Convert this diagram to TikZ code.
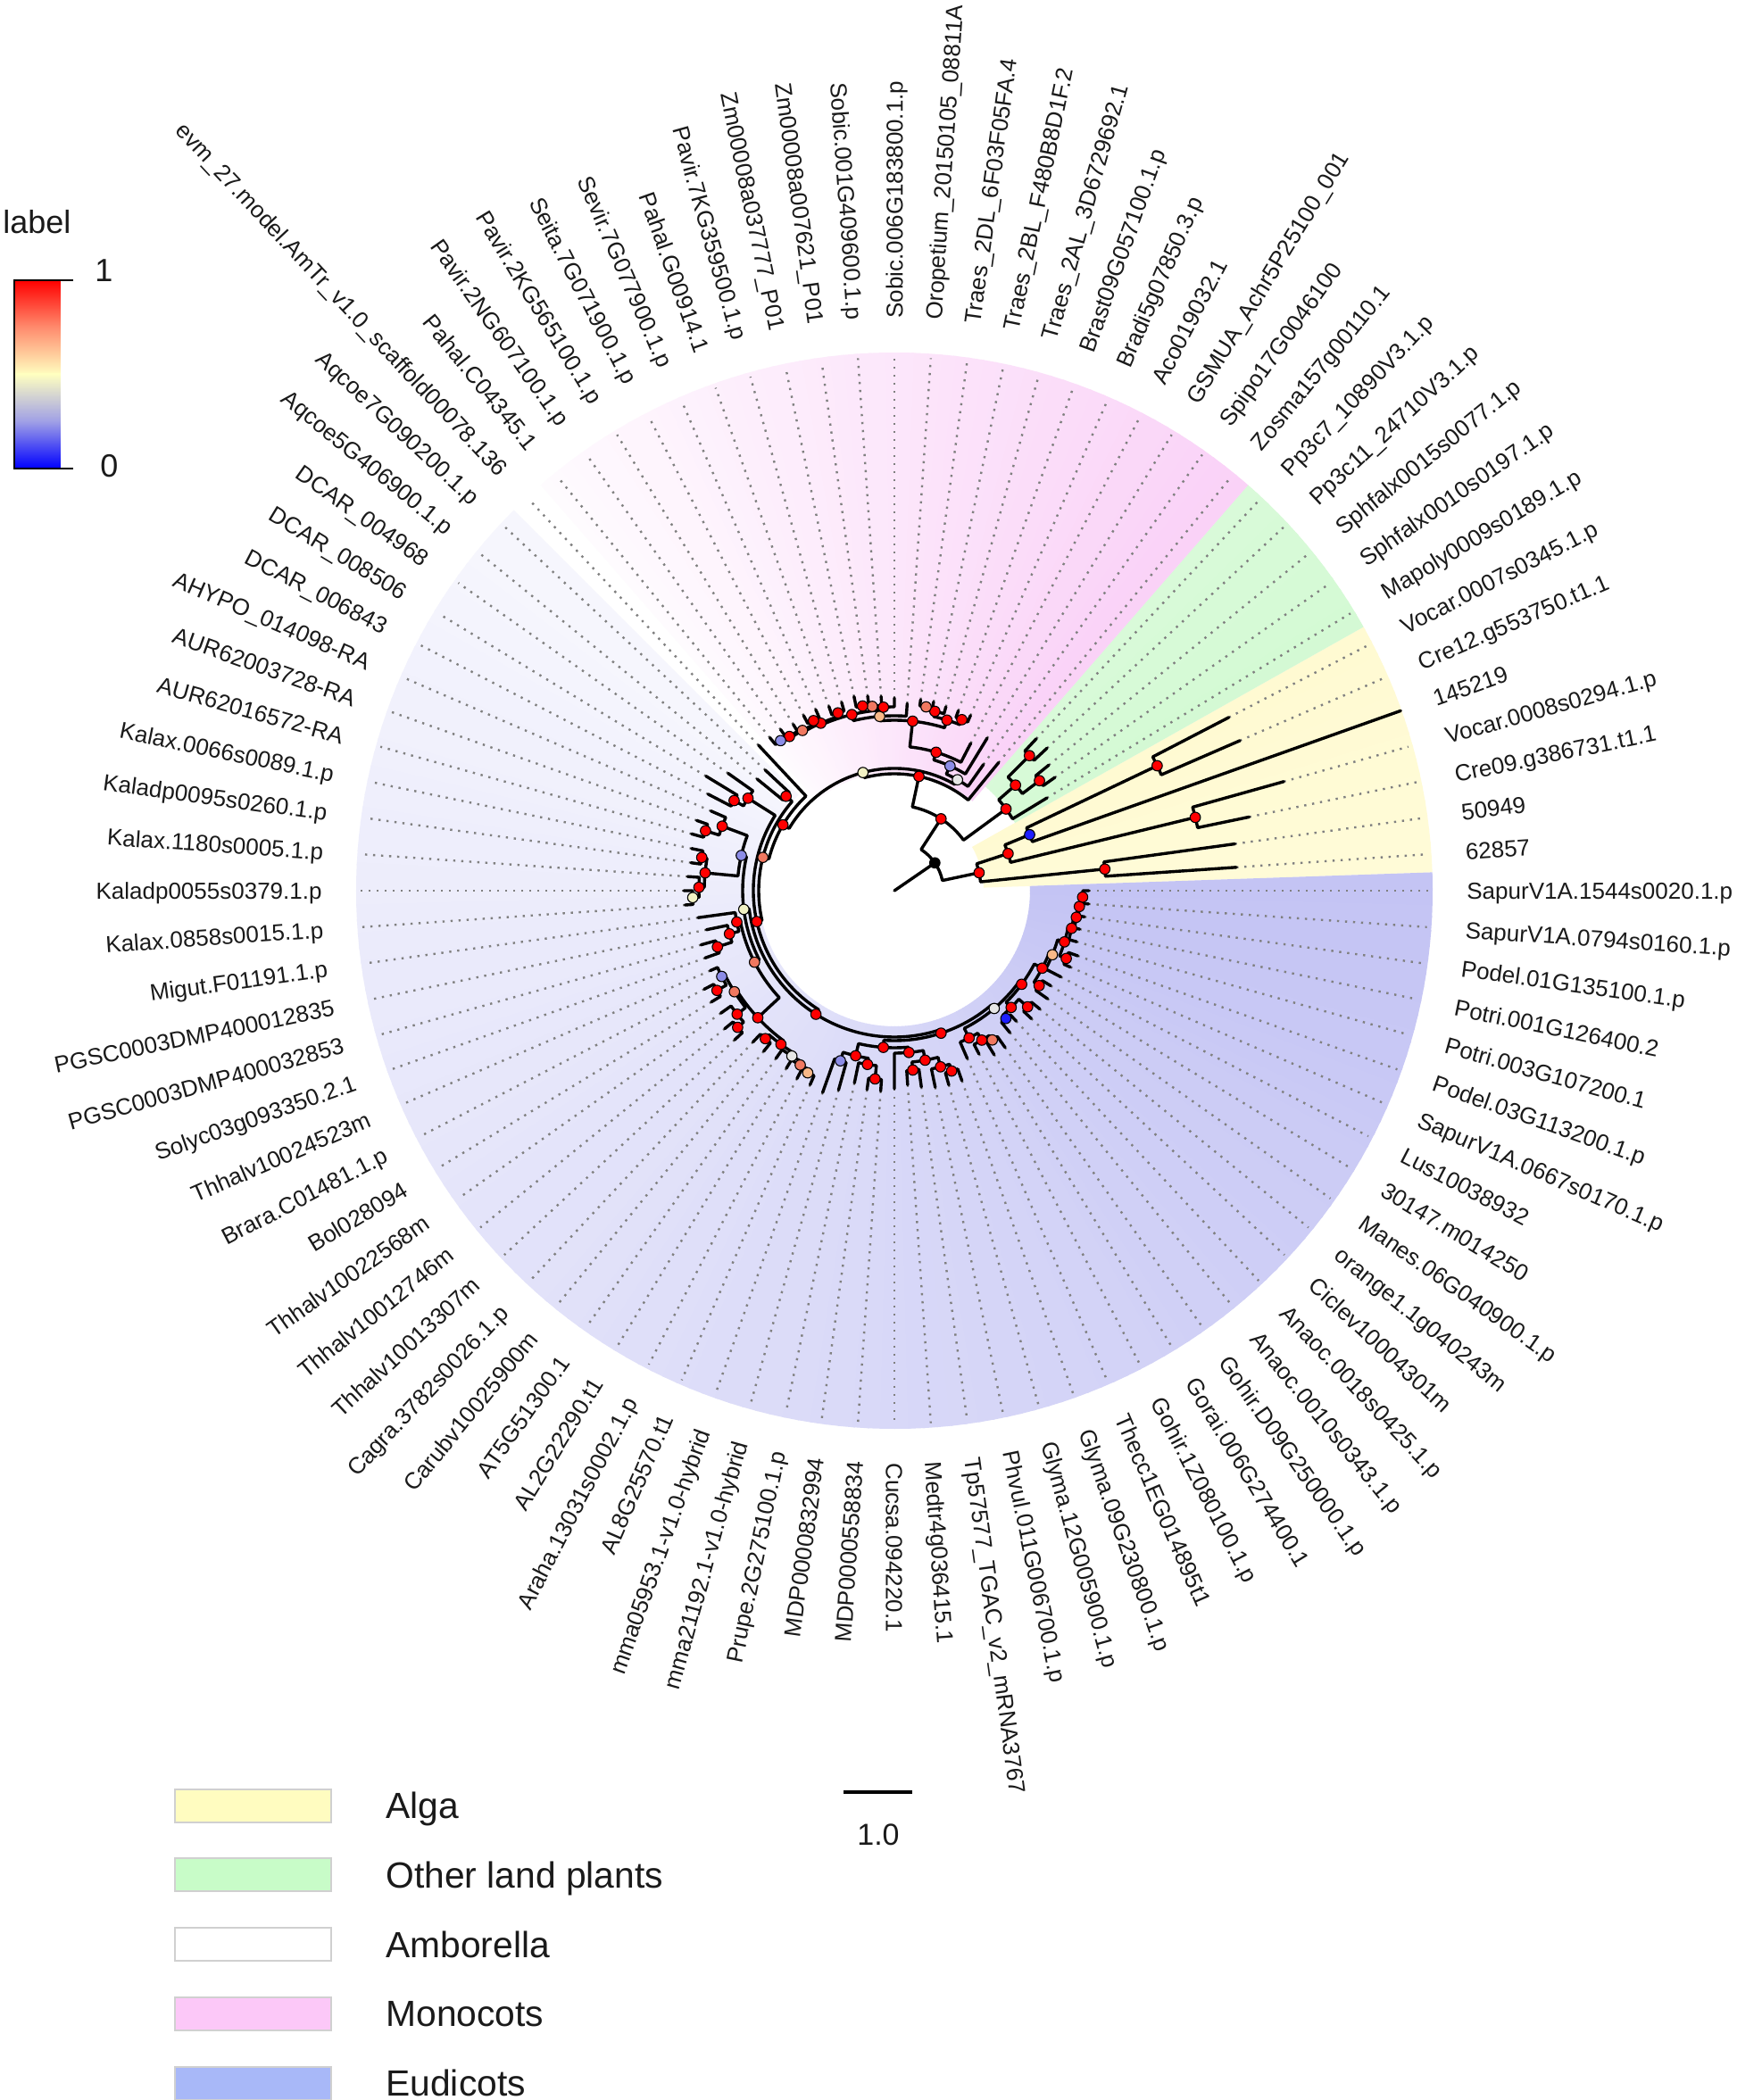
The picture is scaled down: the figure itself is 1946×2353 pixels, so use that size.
\documentclass[tikz,border=0pt]{standalone}
\usepackage{fontspec}
\setmainfont{Liberation Sans}
\definecolor{nred}{HTML}{FF0000}
\definecolor{nsal}{HTML}{F07860}
\definecolor{npch}{HTML}{F8B888}
\definecolor{nly}{HTML}{F2F2C4}
\definecolor{nwh}{HTML}{E6E6E6}
\definecolor{nbg}{HTML}{8C8CE6}
\definecolor{nblu}{HTML}{1E1EFF}
\definecolor{dotg}{HTML}{808080}
\definecolor{lblc}{HTML}{1A1A1A}
\definecolor{algc}{HTML}{FFF5A0}
\definecolor{grnc}{HTML}{B0F5B0}
\definecolor{monc}{HTML}{F5A8F0}
\definecolor{eudc}{HTML}{B0B0F0}
\definecolor{legA}{HTML}{FFFCC0}
\definecolor{legO}{HTML}{C8FCC8}
\definecolor{legM}{HTML}{FCC8F8}
\definecolor{legE}{HTML}{A8B8F8}
\definecolor{legbd}{HTML}{D0D0D0}
\definecolor{cbup}{HTML}{FF8C6E}
\definecolor{cbmid}{HTML}{FFFFC0}
\definecolor{cblow}{HTML}{A0A0E6}
\def\dg{3.91304348}
% node data: name, y (tip index units), radius
\newcommand\nd[3]{\expandafter\xdef\csname Y@#1\endcsname{#2}\expandafter\xdef\csname R@#1\endcsname{#3}\coordinate (#1) at ({#2*\dg}:#3);}
% parent with two children: radial - arc at parent radius - radial
\newcommand\EE[3]{%
  \edef\eYa{\csname Y@#2\endcsname}\edef\eYb{\csname Y@#3\endcsname}\edef\eR{\csname R@#1\endcsname}%
  \pgfmathsetmacro\eA{\eYa*\dg}\pgfmathsetmacro\eB{\eYb*\dg}%
  \draw[branch] (#2) -- (\eA:\eR) arc[start angle=\eA, end angle=\eB, radius=\eR] -- (#3);}
% coloured sector with angular gradient
\newcommand\sect[6]{%
  \pgfmathtruncatemacro\secN{ceil((#3-#2)/1.5)}%
  \foreach \ii in {1,...,\secN}{%
    \pgfmathsetmacro\secA{#2+(\ii-1)*1.5}%
    \pgfmathsetmacro\secB{min(\secA+1.8,#3)}%
    \pgfmathtruncatemacro\secP{#4+(#5-#4)*(\secA-#2)/(#3-#2)}%
    \fill[#1!\secP!white] (\secA:#6) arc[start angle=\secA, end angle=\secB, radius=#6] -- (\secB:603) arc[start angle=\secB, end angle=\secA, radius=603] -- cycle;
  }}
\begin{document}
\begin{tikzpicture}[x=0.5pt,y=0.5pt,
  branch/.style={line width=1.7pt, black, line cap=round, line join=round},
  dotl/.style={line width=1.2pt, color=dotg, dash pattern=on 1.2pt off 3.3pt},
  ndot/.style={circle, draw=black, line width=0.55pt, inner sep=0pt, minimum size=5.8pt},
  lbl/.style={font=\fontsize{13}{15}\selectfont, text=lblc, inner sep=0pt, text height=9.3pt, text depth=0pt}]
\fill[white] (-1002,-1355) rectangle (944,998);
\useasboundingbox (-1002,-1355) rectangle (944,998);
% ---------- sectors ----------
\sect{algc}{1.957}{29.348}{42}{48}{100}
\sect{grnc}{29.348}{48.913}{55}{48}{155}
\sect{monc}{48.913}{131.087}{52}{5}{133}
\sect{eudc}{135}{361.957}{11}{76}{152}
\foreach \ii in {0,...,49}{\fill[white, opacity=0.0095] (0,0) circle ({603-\ii*9.06});}
% ---------- tips ----------
\foreach \tk/\tr in {1/384,2/385,3/406,4/453,5/602,6/422,7/422,8/200,9/220,10/223,11/234,12/233,
 13/185,14/173,15/200,16/186,17/214,18/214,19/214,20/216,21/216,22/210,23/216,24/218,25/220,26/222,
 27/219,28/219,29/221,30/221,31/218,32/221,33/221,34/223,35/198,36/198,37/228,38/247,39/235,
 40/224,41/235,42/236,43/232,44/230,45/232,46/236,47/235,48/222,49/215,50/225,51/225,
 52/225,53/240,54/240,55/238,56/245,57/245,58/232,59/232,60/230,61/233,62/237,63/237,
 64/240,65/232,66/220,67/225,68/225,69/222,70/218,71/222,72/225,73/226,74/226,
 75/205,76/206,77/215,78/215,79/205,80/200,81/210,82/210,83/210,84/205,85/210,
 86/215,87/218,88/212,89/212,90/215,91/218,92/218}{\nd{t\tk}{\tk}{\tr}}
% ---------- internal nodes ----------
\coordinate (root) at (0,0);
\nd{B1}{8.8195}{55}
\nd{NB}{3.0625}{97}
\nd{n12}{1.5}{237}
\nd{NC}{4.625}{134}
\nd{n34}{3.5}{347}
\nd{nBl}{5.75}{164}
\nd{n67}{6.5}{326}
\nd{NA}{14.5765}{96}
\nd{nOL}{9.25}{155}
\nd{nOLb}{10.5}{180}
\nd{nSph}{9.5}{204}
\nd{nPp}{11.5}{214}
\nd{S}{19.9031}{131}
\nd{L1}{26.8061}{137}
\nd{G}{15.4287}{143}
\nd{P2}{16.8574}{153}
\nd{P1}{18.7148}{162}
\nd{C1}{21.4297}{191}
\nd{PO}{18.625}{200}
\nd{Po1}{17.5}{206}
\nd{Po3}{19.75}{206}
\nd{Po2}{20.5}{209}
\nd{PA}{24.2344}{196}
\nd{R}{26.4688}{203}
\nd{A3}{23.875}{206}
\nd{A2}{24.75}{208}
\nd{A1}{25.5}{210}
\nd{PN}{29.0625}{205}
\nd{Pa1}{27.5}{209}
\nd{Pa5}{30.625}{207}
\nd{Pa2}{29.5}{211}
\nd{Pa4}{31.75}{209}
\nd{Pa3}{32.5}{211}
\nd{L2}{38.1835}{145}
\nd{E}{42.3671}{152}
\nd{Aqc}{35.5}{161}
\nd{E2}{49.2341}{158}
\nd{DC}{37.75}{194}
\nd{D1}{38.5}{206}
\nd{N60}{60.7183}{164}
\nd{LY}{47.8047}{170}
\nd{BAK}{42.6875}{176}
\nd{Am}{40.75}{206}
\nd{Am1}{41.5}{222}
\nd{K}{44.625}{213}
\nd{K1}{43.5}{219}
\nd{K3}{45.75}{219}
\nd{K2}{46.5}{226}
\nd{SB}{52.9219}{176}
\nd{So3}{48.875}{180}
\nd{So2}{49.75}{191}
\nd{So1}{50.5}{208}
\nd{X56}{56.9688}{209}
\nd{Br1}{54.25}{212}
\nd{Bq}{52.75}{216}
\nd{B34}{53.5}{228}
\nd{B5}{55.75}{224}
\nd{B67}{56.5}{233}
\nd{Br2}{59.6875}{214}
\nd{B89}{58.5}{220}
\nd{Bw}{60.875}{218}
\nd{Bs1}{61.75}{222}
\nd{Bs2}{62.5}{226}
\nd{Rr}{73.6318}{168}
\nd{N68}{67.9688}{176}
\nd{mR}{65.625}{190}
\nd{mm}{64.5}{200}
\nd{Ros}{66.75}{197}
\nd{Ros1}{67.5}{212}
\nd{CL}{70.3125}{182}
\nd{Lg}{71.625}{193}
\nd{Lg1}{70.5}{202}
\nd{Lg2}{72.75}{204}
\nd{Gl}{73.5}{212}
\nd{W}{79.2949}{173}
\nd{Mv}{75.875}{185}
\nd{Mv2}{76.75}{194}
\nd{Mv1}{77.5}{200}
\nd{X}{82.7148}{177}
\nd{Sap}{80.5}{185}
\nd{Sp1}{79.5}{190}
\nd{Sp2}{81.5}{198}
\nd{nM2}{84.9297}{187}
\nd{M34}{83.5}{194}
\nd{nM1}{86.3594}{191}
\nd{nSal}{87.7188}{199}
\nd{nS6}{86.5}{207}
\nd{nS4}{88.9375}{203}
\nd{nS3}{89.875}{206}
\nd{nS2}{90.75}{208}
\nd{nS1}{91.5}{211}
% ---------- dotted leaders ----------
\foreach \tk in {1,...,4,6,7,...,92}{\pgfmathsetmacro\ang{\tk*\dg}\draw[dotl] (t\tk) -- (\ang:598);}
% ---------- branches ----------
\draw[branch] (root) -- (B1);
\EE{B1}{NB}{NA}
\EE{NB}{n12}{NC}
\EE{n12}{t1}{t2}
\EE{NC}{n34}{nBl}
\EE{n34}{t3}{t4}
\EE{nBl}{t5}{n67}
\EE{n67}{t6}{t7}
\EE{NA}{nOL}{S}
\EE{nOL}{t8}{nOLb}
\EE{nOLb}{nSph}{nPp}
\EE{nSph}{t9}{t10}
\EE{nPp}{t11}{t12}
\EE{S}{t13}{L1}
\EE{L1}{G}{L2}
\EE{G}{t14}{P2}
\EE{P2}{t15}{P1}
\EE{P1}{t16}{C1}
\EE{C1}{PO}{PA}
\EE{PO}{Po1}{Po3}
\EE{Po1}{t17}{t18}
\EE{Po3}{t19}{Po2}
\EE{Po2}{t20}{t21}
\EE{PA}{t22}{R}
\EE{R}{A3}{PN}
\EE{A3}{t23}{A2}
\EE{A2}{t24}{A1}
\EE{A1}{t25}{t26}
\EE{PN}{Pa1}{Pa5}
\EE{Pa1}{t27}{t28}
\EE{Pa5}{Pa2}{Pa4}
\EE{Pa2}{t29}{t30}
\EE{Pa4}{t31}{Pa3}
\EE{Pa3}{t32}{t33}
\EE{L2}{t34}{E}
\EE{E}{Aqc}{E2}
\EE{Aqc}{t35}{t36}
\EE{E2}{DC}{N60}
\EE{DC}{t37}{D1}
\EE{D1}{t38}{t39}
\EE{N60}{LY}{Rr}
\EE{LY}{BAK}{SB}
\EE{BAK}{Am}{K}
\EE{Am}{t40}{Am1}
\EE{Am1}{t41}{t42}
\EE{K}{K1}{K3}
\EE{K1}{t43}{t44}
\EE{K3}{t45}{K2}
\EE{K2}{t46}{t47}
\EE{SB}{So3}{X56}
\EE{So3}{t48}{So2}
\EE{So2}{t49}{So1}
\EE{So1}{t50}{t51}
\EE{X56}{Br1}{Br2}
\EE{Br1}{Bq}{B5}
\EE{Bq}{t52}{B34}
\EE{B34}{t53}{t54}
\EE{B5}{t55}{B67}
\EE{B67}{t56}{t57}
\EE{Br2}{B89}{Bw}
\EE{B89}{t58}{t59}
\EE{Bw}{t60}{Bs1}
\EE{Bs1}{t61}{Bs2}
\EE{Bs2}{t62}{t63}
\EE{Rr}{N68}{W}
\EE{N68}{mR}{CL}
\EE{mR}{mm}{Ros}
\EE{mm}{t64}{t65}
\EE{Ros}{t66}{Ros1}
\EE{Ros1}{t67}{t68}
\EE{CL}{t69}{Lg}
\EE{Lg}{Lg1}{Lg2}
\EE{Lg1}{t70}{t71}
\EE{Lg2}{t72}{Gl}
\EE{Gl}{t73}{t74}
\EE{W}{Mv}{X}
\EE{Mv}{t75}{Mv2}
\EE{Mv2}{t76}{Mv1}
\EE{Mv1}{t77}{t78}
\EE{X}{Sap}{nM2}
\EE{Sap}{Sp1}{Sp2}
\EE{Sp1}{t79}{t80}
\EE{Sp2}{t81}{t82}
\EE{nM2}{M34}{nM1}
\EE{M34}{t83}{t84}
\EE{nM1}{t85}{nSal}
\EE{nSal}{nS6}{nS4}
\EE{nS6}{t86}{t87}
\EE{nS4}{t88}{nS3}
\EE{nS3}{t89}{nS2}
\EE{nS2}{t90}{nS1}
\EE{nS1}{t91}{t92}
% ---------- node dots ----------
\foreach \nn/\lc in {B1/black,NB/nred,n12/nred,NC/nred,n34/nred,nBl/nblu,n67/nred,NA/nred,nOL/nred,nOLb/nred,
 nSph/nred,nPp/nred,S/nred,L1/nly,G/nwh,P2/nbg,P1/nred,C1/nred,PO/nred,Po1/nred,Po3/nred,Po2/nsal,PA/npch,
 R/nred,A3/nred,A2/nsal,A1/nred,PN/nred,Pa1/nred,Pa5/nsal,Pa2/nred,Pa4/nred,Pa3/nbg,
 L2/nred,E/nsal,Aqc/nred,E2/nred,DC/nred,D1/nred,N60/nred,LY/nly,BAK/nbg,Am/nred,Am1/nred,K/nred,K1/nred,
 K3/nred,K2/nly,SB/nsal,So3/nred,So2/nred,So1/nred,X56/nred,Br1/nsal,Bq/nbg,B34/nred,B5/nred,B67/nred,
 Br2/nred,B89/nred,Bw/nwh,Bs1/nsal,Bs2/npch,Rr/nred,N68/nred,mR/nred,mm/nbg,Ros/nred,Ros1/nred,CL/nred,
 Lg/nred,Lg1/nred,Lg2/nred,Gl/nred,W/nwh,Mv/nred,Mv2/nred,Mv1/nsal,X/nred,Sap/nred,Sp1/nblu,Sp2/nred,
 nM2/nred,M34/nred,nM1/npch,nSal/nred,nS6/nred,nS4/nred,nS3/nred,nS2/nred,nS1/nred}
 {\node[ndot, fill=\lc] (dot-\nn) at (\nn) {};}
% ---------- tip labels ----------
\foreach \tk/\lab in {1/62857,2/50949,3/Cre09.g386731.t1.1,4/Vocar.0008s0294.1.p,5/145219,
 6/Cre12.g553750.t1.1,7/Vocar.0007s0345.1.p,8/Mapoly0009s0189.1.p,9/Sphfalx0010s0197.1.p,
 10/Sphfalx0015s0077.1.p,11/Pp3c11\_24710V3.1.p,12/Pp3c7\_10890V3.1.p,13/Zosma157g00110.1,
 14/Spipo17G0046100,15/GSMUA\_Achr5P25100\_001,16/Aco019032.1,17/Bradi5g07850.3.p,
 18/Brast09G057100.1.p,19/Traes\_2AL\_3D6729692.1,20/Traes\_2BL\_F480B8D1F.2,
 21/Traes\_2DL\_6F03F05FA.4,22/Oropetium\_20150105\_08811A,23/Sobic.006G183800.1.p,
 24/Sobic.001G409600.1.p,25/Zm00008a007621\_P01,26/Zm00008a037777\_P01,27/Pavir.7KG359500.1.p,
 28/Pahal.G00914.1,29/Sevir.7G077900.1.p,30/Seita.7G071900.1.p,31/Pavir.2KG565100.1.p,
 32/Pavir.2NG607100.1.p,33/Pahal.C04345.1,34/evm\_27.model.AmTr\_v1.0\_scaffold00078.136,
 35/Aqcoe7G090200.1.p,36/Aqcoe5G406900.1.p,37/DCAR\_004968,38/DCAR\_008506,39/DCAR\_006843,
 40/AHYPO\_014098-RA,41/AUR62003728-RA,42/AUR62016572-RA,43/Kalax.0066s0089.1.p,
 44/Kaladp0095s0260.1.p,45/Kalax.1180s0005.1.p,46/Kaladp0055s0379.1.p,47/Kalax.0858s0015.1.p,
 48/Migut.F01191.1.p,49/PGSC0003DMP400012835,50/PGSC0003DMP400032853,51/Solyc03g093350.2.1,
 52/Thhalv10024523m,53/Brara.C01481.1.p,54/Bol028094,55/Thhalv10022568m,56/Thhalv10012746m,
 57/Thhalv10013307m,58/Cagra.3782s0026.1.p,59/Carubv10025900m,60/AT5G51300.1,61/AL2G22290.t1,
 62/Araha.13031s0002.1.p,63/AL8G25570.t1,64/mma05953.1-v1.0-hybrid,65/mma21192.1-v1.0-hybrid,
 66/Prupe.2G275100.1.p,67/MDP0000832994,68/MDP0000558834,69/Cucsa.094220.1,70/Medtr4g036415.1,
 71/Tp57577\_TGAC\_v2\_mRNA3767,72/Phvul.011G006700.1.p,73/Glyma.12G005900.1.p,
 74/Glyma.09G230800.1.p,75/Thecc1EG014895t1,76/Gohir.1Z080100.1.p,77/Gorai.006G274400.1,
 78/Gohir.D09G250000.1.p,79/Anaoc.0010s0343.1.p,80/Anaoc.0018s0425.1.p,81/Ciclev10004301m,
 82/orange1.1g040243m,83/Manes.06G040900.1.p,84/30147.m014250,85/Lus10038932,
 86/SapurV1A.0667s0170.1.p,87/Podel.03G113200.1.p,88/Potri.003G107200.1,89/Potri.001G126400.2,
 90/Podel.01G135100.1.p,91/SapurV1A.0794s0160.1.p,92/SapurV1A.1544s0020.1.p}{%
  \pgfmathsetmacro\ang{\tk*\dg}%
  \pgfmathsetmacro\angf{\ang+180}%
  \ifnum\tk>23\relax
    \ifnum\tk<69\relax
      \node[lbl, anchor=east, rotate=\angf] (lab\tk) at (\ang:641) {\lab};
    \else
      \node[lbl, anchor=west, rotate=\ang] (lab\tk) at (\ang:641) {\lab};
    \fi
  \else
    \node[lbl, anchor=west, rotate=\ang] (lab\tk) at (\ang:641) {\lab};
  \fi}
% ---------- colour bar ----------
\node[anchor=base west, font=\fontsize{18}{20}\selectfont, text=lblc, inner sep=0pt] (cbtitle) at (-999,736) {label};
\shade[top color=nred, bottom color=cbmid, middle color=cbup] (-986,578) rectangle (-934,684);
\shade[top color=cbmid, bottom color=blue, middle color=cblow] (-986,473) rectangle (-934,579);
\draw[line width=1.35pt] (-920,684) -- (-986,684) -- (-986,473) -- (-920,473);
\node[anchor=base west, font=\fontsize{18}{20}\selectfont, text=lblc, inner sep=0pt] (cbone) at (-896,682) {1};
\node[anchor=base west, font=\fontsize{18}{20}\selectfont, text=lblc, inner sep=0pt] (cbzero) at (-890,463) {0};
% ---------- legend ----------
\foreach \ii/\lc/\lab in {0/legA/Alga,1/legO/Other land plants,2/white/Amborella,3/legM/Monocots,4/legE/Eudicots}{%
  \pgfmathsetmacro\yy{-1025-77.75*\ii}%
  \filldraw[fill=\lc, draw=legbd, line width=1pt] (-806,\yy-18.5) rectangle (-631,\yy+18.5);
  \node[anchor=west, font=\fontsize{20.4}{24}\selectfont, text=lblc, inner sep=0pt, text height=14.6pt, text depth=0pt] (leg\ii) at (-570,\yy) {\lab};}
% ---------- scale bar ----------
\coordinate (sbL) at (-57,-1010);
\coordinate (sbR) at (20,-1010);
\draw[line width=2pt] (sbL) -- (sbR);
\node[anchor=base, font=\fontsize{17}{20}\selectfont, text=lblc, inner sep=0pt] (sblab) at (-18,-1069) {1.0};
\end{tikzpicture}
\end{document}
